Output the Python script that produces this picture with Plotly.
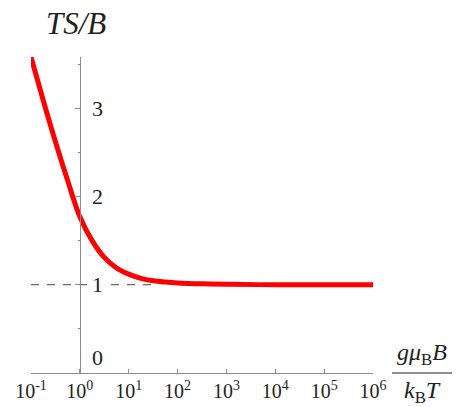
import plotly.graph_objects as go

# data: log10(g muB B / kB T) and TS/B
log_x = [-1.0, -0.75, -0.5, -0.25, 0.0, 0.25, 0.5, 0.75, 1.0, 1.25, 1.5, 1.75, 2.0, 2.5, 3.0, 4.0, 5.0, 6.0]
ts_b = [3.58, 3.09, 2.62, 2.18, 1.77, 1.50, 1.31, 1.19, 1.12, 1.072, 1.045, 1.03, 1.02, 1.01, 1.005, 1.0, 1.0, 1.0]

x_tick_exps = [-1, 0, 1, 2, 3, 4, 5, 6]
x_tick_text = ["10<sup>-1</sup>", "10<sup>0</sup>", "10<sup>1</sup>", "10<sup>2</sup>",
               "10<sup>3</sup>", "10<sup>4</sup>", "10<sup>5</sup>", "10<sup>6</sup>"]
y_ticks = [0, 1, 2, 3]
y_tick_text = ["0", "1", "2", "3"]

asym_x = [0.1, 10 ** 1.6]
asym_y = [1, 1]

FONT = "Liberation Serif, Times New Roman, DejaVu Serif, serif"
TXT = "#231f20"
AX = "#8c8c8c"

W, H = 456, 407
L, R, T, B = 31, 83, 57, 34
PW, PH = W - L - R, H - T - B


def px(x):
    return (x - L) / PW


def py(y):
    return (H - B - y) / PH


x_vals = [10 ** v for v in log_x]

fig = go.Figure()
fig.add_trace(go.Scatter(x=asym_x, y=asym_y, mode="lines",
                         line=dict(color="#444444", width=1, dash="8px,8px"),
                         hoverinfo="skip", showlegend=False))
fig.add_trace(go.Scatter(x=x_vals, y=ts_b, mode="lines",
                         line=dict(color="#ff0000", width=5, shape="spline", smoothing=1.0),
                         showlegend=False, cliponaxis=False))

fig.update_layout(
    width=W, height=H,
    margin=dict(l=L, r=R, t=T, b=B, autoexpand=False),
    paper_bgcolor="white", plot_bgcolor="white",
    showlegend=False,
    xaxis=dict(type="log", range=[-1, 6], showgrid=False, zeroline=False,
               automargin=False,
               showline=True, linecolor=AX, linewidth=1,
               ticks="inside", ticklen=4, tickcolor=AX,
               tickvals=[10 ** e for e in x_tick_exps], ticktext=x_tick_text,
               tickfont=dict(family=FONT, size=20, color=TXT)),
    yaxis=dict(range=[0, 3.58], showgrid=False, zeroline=False,
               automargin=False,
               anchor="free", position=1 / 7,
               showline=True, linecolor=AX, linewidth=1,
               ticks="outside", ticklen=5, tickcolor=AX,
               tickvals=y_ticks, showticklabels=False,
               minor=dict(dtick=0.5, ticks="outside", ticklen=2, tickcolor=AX)),
)

for v, t in zip(y_ticks, y_tick_text):
    fig.add_annotation(x=0, y=v, xref="x", yref="y", text=t, showarrow=False,
                       xanchor="left", yanchor="bottom" if v == 0 else "middle",
                       xshift=10, yshift=1 if v == 0 else 0,
                       bgcolor="white" if v == 1 else "rgba(0,0,0,0)",
                       font=dict(family=FONT, size=22, color=TXT))

fig.add_annotation(x=px(44), y=py(23), xref="paper", yref="paper", text="<i>TS/B</i>",
                   showarrow=False, xanchor="left", yanchor="middle",
                   font=dict(family=FONT, size=31, color=TXT))

fig.add_annotation(x=px(422), y=py(373), xref="paper", yref="paper",
                   text="<i>gμ</i><sub>B</sub><i>B</i>", showarrow=False,
                   xanchor="center", yanchor="bottom", yshift=2,
                   font=dict(family=FONT, size=24, color=TXT))
fig.add_annotation(x=px(422), y=py(373), xref="paper", yref="paper",
                   text="<i>k</i><sub>B</sub><i>T</i>", showarrow=False,
                   xanchor="center", yanchor="top", yshift=-2,
                   font=dict(family=FONT, size=24, color=TXT))
fig.add_shape(type="line", xref="paper", yref="paper",
              x0=px(392), x1=px(452), y0=py(373), y1=py(373),
              line=dict(color=TXT, width=1))

fig.write_html("out.html", config={"displayModeBar": False},
               post_script="document.body.style.margin='0px';document.body.style.padding='0px';")
